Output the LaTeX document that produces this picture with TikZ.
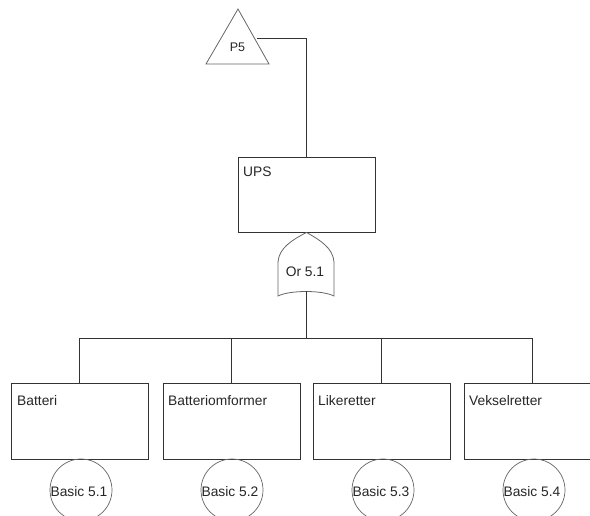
\documentclass[tikz,border=0pt]{standalone}
\usepackage{fontspec}
\setmainfont{Liberation Sans}
\begin{document}
\begin{tikzpicture}[x=1pt,y=-1pt,
  box/.style={draw=black!80,line width=0.9pt,minimum width=137pt,minimum height=76pt,inner sep=0pt},
  lbl/.style={font=\fontsize{13.8}{15}\selectfont,anchor=base west,inner sep=0pt,text=black!85},
  basic/.style={circle,draw=black!60,line width=0.7pt,minimum size=62pt,inner sep=0pt},
  btxt/.style={font=\fontsize{13.8}{15}\selectfont,text=black!85,inner sep=0pt},
  wire/.style={draw=black!80,line width=0.9pt},
  gate/.style={draw=black!60,line width=0.8pt}]
\useasboundingbox (0,0) rectangle (590,515);
\clip (0,0) rectangle (590,515);
% top event triangle
\draw[gate] (238,9) -- (269,64) -- (206,64) -- cycle;
\node[font=\fontsize{12.5}{14}\selectfont,text=black!85,inner sep=0pt] (p5) at (237.5,47) {P5};
\coordinate (p5out) at (257,38);
% UPS box
\node[box,minimum width=137pt,minimum height=75pt] (ups) at (306.5,194.5) {};
\node[lbl] at (243,176) {UPS};
\draw[wire] (p5out) -- (ups.north |- p5out) -- (ups.north);
% OR gate
\coordinate (ortop) at (ups.south);
\coordinate (orbot) at (306,291);
\draw[gate] (ortop) .. controls (292,240) and (279,248) .. (278,262) -- (278,296)
  .. controls (290,290) and (322,290) .. (334,296) -- (334,262)
  .. controls (333,248) and (320,240) .. (ortop);
\node[font=\fontsize{13.8}{15}\selectfont,text=black!85,inner sep=0pt] (or) at (305,272) {Or 5.1};
\coordinate (bus) at (306,338);
\draw[wire] (orbot) -- (bus);
% children
\node[box] (b1) at (79.5,421) {};
\node[box] (b2) at (231.5,421) {};
\node[box] (b3) at (381.5,421) {};
\node[box] (b4) at (532.5,421) {};
\node[lbl] at (17,405) {Batteri};
\node[lbl] at (168,405) {Batteriomformer};
\node[lbl] at (318,405) {Likeretter};
\node[lbl] at (469,405) {Vekselretter};
\draw[wire] (b1.north) -- (b1.north |- bus) -- (b4.north |- bus) -- (b4.north);
\draw[wire] (b2.north) -- (b2.north |- bus);
\draw[wire] (b3.north) -- (b3.north |- bus);
% basic events
\node[basic] (c1) at (81,490) {};
\node[basic] (c2) at (232,490) {};
\node[basic] (c3) at (383,490) {};
\node[basic] (c4) at (534,490) {};
\node[btxt] at (79,492) {Basic 5.1};
\node[btxt] at (230,492) {Basic 5.2};
\node[btxt] at (381,492) {Basic 5.3};
\node[btxt] at (532,492) {Basic 5.4};
\end{tikzpicture}
\end{document}
